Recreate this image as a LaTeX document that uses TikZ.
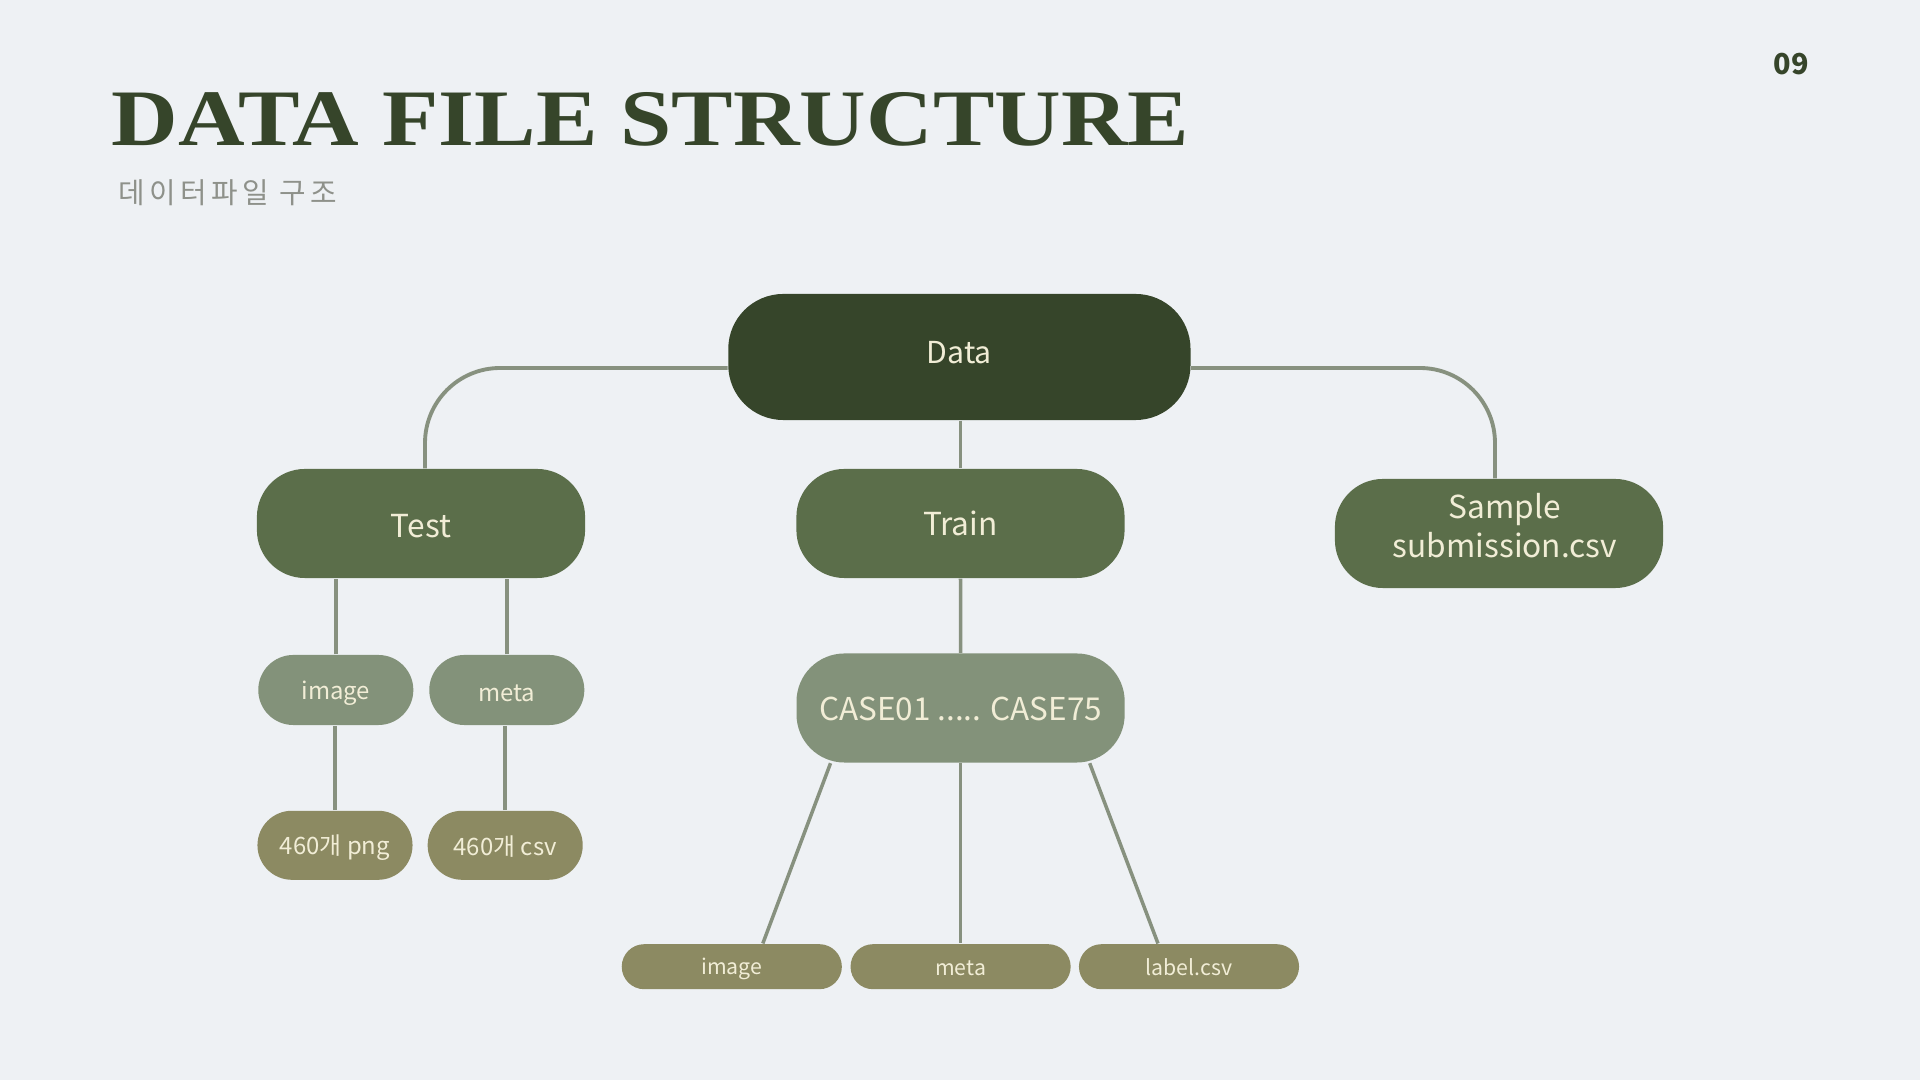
\documentclass[tikz,border=0pt]{standalone}
\usepackage{fontspec}
\usepackage{graphicx}
\setmainfont{Noto Sans CJK KR}
\newfontfamily\titlefont{Liberation Serif}
\newfontfamily\subfont{Noto Sans CJK KR}[LetterSpace=15]

\definecolor{paper}{HTML}{EEF1F4}
\definecolor{ink}{HTML}{36452A}
\definecolor{leaf}{HTML}{5B6E4A}
\definecolor{sage}{HTML}{83927A}
\definecolor{olive}{HTML}{8C8A62}
\definecolor{wire}{HTML}{87917F}
\definecolor{cream}{HTML}{F1EDD6}
\definecolor{subgray}{HTML}{8E918A}

% shift a label up (positive) or down (negative) inside its box,
% keeping the box's own height and depth
\newcommand{\lift}[2]{\raisebox{#1}[\height][\depth]{#2}}

\begin{document}
\begin{tikzpicture}[x=0.01cm,y=-0.01cm,
  box/.style={draw=none, text=cream, inner sep=0pt},
  rootbox/.style={box, fill=ink, minimum width=4.62cm, minimum height=1.26cm,
    rounded corners=0.55cm, font=\fontsize{8.6}{10}\selectfont},
  groupbox/.style={box, fill=leaf, minimum width=3.28cm, minimum height=1.09cm,
    rounded corners=0.48cm, font=\fontsize{9}{11}\selectfont},
  casebox/.style={box, fill=sage, minimum width=3.28cm, minimum height=1.09cm,
    rounded corners=0.48cm, font=\fontsize{8.95}{11}\selectfont},
  kindbox/.style={box, fill=sage, minimum width=1.55cm, minimum height=0.70cm,
    rounded corners=0.35cm, font=\fontsize{6.8}{8}\selectfont},
  filebox/.style={box, fill=olive, minimum width=1.55cm, minimum height=0.69cm,
    rounded corners=0.345cm, font=\fontsize{6.8}{8}\selectfont},
  leafbox/.style={box, fill=olive, minimum width=2.20cm, minimum height=0.45cm,
    rounded corners=0.225cm, font=\fontsize{6.05}{7}\selectfont},
  link/.style={draw=wire, line width=1pt},
  trunk/.style={draw=wire, line width=1.1pt, rounded corners=0.75cm}
]
% page
\fill[paper] (0,0) rectangle (1920,1080);
\useasboundingbox (0,0) rectangle (1920,1080);

% heading
\node[anchor=south west, inner sep=0pt, text=ink] (title) at (111,147)
  {\resizebox{10.77cm}{0.53cm}{\titlefont\bfseries DATA FILE STRUCTURE}};
\node[anchor=west, inner sep=0pt, text=subgray, font=\fontsize{8.2}{10}\selectfont\subfont]
  (subtitle) at (118,193) {데이터파일 구조};
\node[inner sep=0pt, text=ink, font=\fontsize{8.2}{10}\selectfont\bfseries]
  (pageno) at (1791,64) {09};

% tree
\node[rootbox]  (data)   at (959.4,357)   {\lift{0.045cm}{Data}};
\node[groupbox] (test)   at (421,523.5)   {\lift{-0.025cm}{Test}};
\node[groupbox] (train)  at (960.5,523.5) {Train};
\node[groupbox, align=center] (sample) at (1499,533.5)
  {\hspace*{0.12cm}\lift{0.033cm}{\begin{tabular}{@{}c@{}}Sample\\submission.csv\end{tabular}}};

\node[kindbox] (timg)  at (335.8,690)   {\lift{-0.035cm}{image}};
\node[kindbox] (tmeta) at (506.8,690)   {\lift{-0.03cm}{meta}};
\node[filebox] (tpng)  at (335,845.3)   {\lift{-0.025cm}{460개 png}};
\node[filebox] (tcsv)  at (505.2,845.3) {\lift{-0.015cm}{460개 csv}};

\node[casebox] (cases) at (960.6,708) {\lift{-0.01cm}{CASE01 ..... CASE75}};
\node[leafbox] (cimg)   at (731.8,966.7) {\lift{-0.025cm}{image}};
\node[leafbox] (cmeta)  at (960.6,966.7) {\lift{-0.012cm}{meta}};
\node[leafbox] (clabel) at (1189,966.7)  {label.csv};

% connectors
\draw[trunk] ([yshift=-0.11cm]data.west) -| ([xshift=0.04cm]test.north);
\draw[trunk] ([yshift=-0.11cm]data.east) -| ([xshift=-0.04cm]sample.north);
\draw[link] (train.north |- data.south) -- (train.north);

\draw[link] (timg.north)  -- (timg.north |- test.south);
\draw[link] (tmeta.north) -- (tmeta.north |- test.south);
\draw[link] (tpng.north)  -- (tpng.north |- timg.south);
\draw[link] (tcsv.north)  -- (tcsv.north |- tmeta.south);

\draw[link] (train.south) -- (cases.north);
\draw[link] ([xshift=-1.30cm]cases.south) -- ([xshift=0.31cm]cimg.north);
\draw[link] (cases.south) -- (cmeta.north);
\draw[link] ([xshift=1.29cm]cases.south) -- ([xshift=-0.31cm]clabel.north);
\end{tikzpicture}
\end{document}
